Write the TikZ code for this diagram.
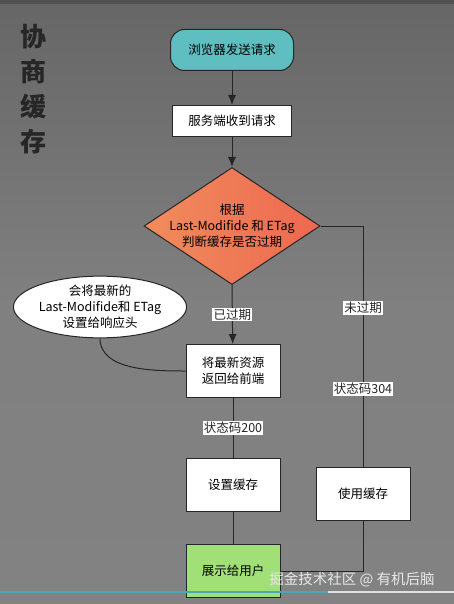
\documentclass[tikz,border=0pt]{standalone}
\usepackage{fontspec}
\setmainfont{Noto Sans CJK SC}
\usetikzlibrary{shapes.geometric,arrows.meta}

\definecolor{bgtop}{RGB}{102,102,102}
\definecolor{bgbot}{RGB}{130,130,130}
\definecolor{startfill}{RGB}{94,190,192}
\definecolor{judgeleft}{RGB}{240,140,92}
\definecolor{judgeright}{RGB}{238,104,80}
\definecolor{showfill}{RGB}{160,224,118}
\definecolor{titlecol}{RGB}{38,38,38}
\definecolor{barcol}{RGB}{74,166,184}

\tikzset{
  basefont/.style={font=\fontsize{12.5}{16}\selectfont},
  procbox/.style={draw=black!85, line width=1pt, fill=white, inner sep=0pt,
    minimum width=94pt, minimum height=53pt, align=center, basefont},
  edgelbl/.style={fill=white, inner sep=1.2pt, basefont}
}

\begin{document}
\begin{tikzpicture}[x=1pt, y=-1pt, >={Latex[length=10pt,width=8pt]}]
		% 1. Background
		\useasboundingbox (0,0) rectangle (454,604);
		\shade[top color=bgtop, bottom color=bgbot, middle color=bgbot!92!bgtop] (0,0) rectangle (454,604);
		\fill[bgtop!80!black] (0,0) rectangle (454,4);

		% 2. Title (vertical)
		\node[titlecol, font=\fontsize{26}{35}\selectfont\bfseries, align=center, inner sep=0pt] (title) at (33,89) {协\\商\\缓\\存};

		% 3. Flow nodes
		\node[draw=black!85, line width=1pt, fill=startfill, rounded corners=14pt, minimum width=123pt, minimum height=41pt, inner sep=0pt, basefont] (start) at (232,50) {浏览器发送请求};
		\node[procbox, minimum width=119pt, minimum height=31pt] (serv) at (232,121) {服务端收到请求};
		% Diamond drawn empty, text placed on top
		\node[diamond, draw=black!85, line width=1pt, left color=judgeleft, right color=judgeright, minimum width=176pt, minimum height=117pt, inner sep=0pt] (judge) at (232,226) {};
		\node[align=center, font=\fontsize{12.5}{16}\selectfont, inner sep=0pt] (judgetxt) at (judge.center) {根据\\Last-Modifide 和 ETag\\判断缓存是否过期};
		\node[ellipse, draw=black!85, line width=1pt, fill=white, minimum width=173pt, minimum height=61pt, inner sep=0pt, align=center, font=\fontsize{12.5}{16}\selectfont] (note) at (100,307) {会将最新的\\Last-Modifide和 ETag\\设置给响应头};
		\node[procbox] (fresh) at (233,371) {将最新资源\\返回给前端};
		\node[procbox] (setc) at (233,485) {设置缓存};
		\node[procbox, fill=showfill] (show) at (233,571) {展示给用户};
		\node[procbox] (usec) at (363,494) {使用缓存};

		% 4. Connectors
		\draw[->, line width=1pt, black!85] (start) -- (serv);
		\draw[->, line width=1pt, black!85] (serv) -- (judge);
		\draw[->, line width=1pt, black!85] (judge.south) -- node[edgelbl] (lblold) {已过期} (fresh);
		\draw[line width=1pt, black!85] (fresh) -- node[edgelbl] (lbl200) {状态码200} (setc);
		\draw[line width=1pt, black!85] (setc) -- (show);
		\draw[line width=1pt, black!85] (judge.east) -| node[edgelbl, pos=0.67] (lblnew) {未过期} node[edgelbl, pos=0.838] (lbl304) {状态码304} (usec.north);
		\draw[line width=1pt, black!85] (usec.south) |- (show.east);
		% Note hooked to the box
		\draw[line width=1pt, black!85] (note.south) to[out=-90, in=180, looseness=0.9] (fresh.west);

		% 5. Overlay (watermark and bar)
		\node[white!82!gray, font=\fontsize{14.5}{16}\selectfont, inner sep=0pt] (mark) at (352,580) {掘金技术社区 @ 有机后脑};
		\draw[barcol, line width=2pt] (0,592) -- (328,592);
		\draw[white!75!gray, line width=2pt] (328,592) -- (454,592);
	\end{tikzpicture}
\end{document}
